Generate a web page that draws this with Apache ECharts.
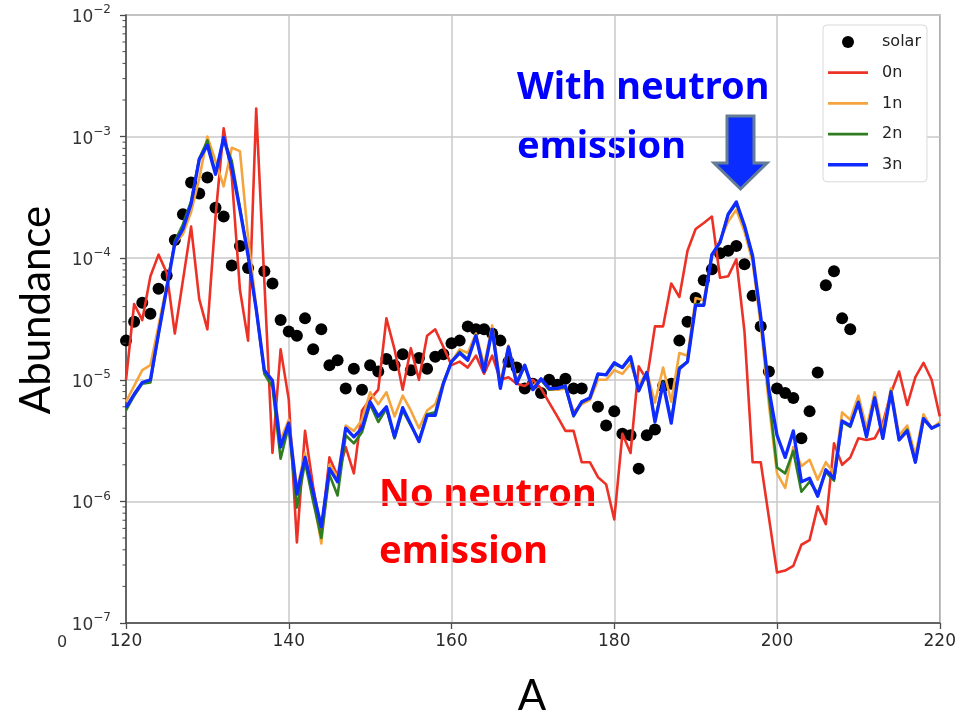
<!DOCTYPE html>
<html>
<head>
<meta charset="utf-8">
<script src="https://cdn.jsdelivr.net/npm/echarts@6/dist/echarts.min.js"></script>
<style>
  html, body { margin: 0; padding: 0; background: #fff; }
  #chart { width: 959px; height: 710px; }
</style>
</head>
<body>
<div id="chart"></div>
<script>
// Mass numbers A = 120 ... 220
const massNumbers = Array.from({ length: 101 }, (_, i) => 120 + i);

// Solar r-process abundances (null where no value is plotted)
const solar = [
  2.1e-5, 3.0e-5, 4.3e-5, 3.5e-5, 5.6e-5, 7.2e-5, 1.41e-4, 2.3e-4, 4.2e-4, 3.4e-4,
  4.6e-4, 2.6e-4, 2.2e-4, 8.7e-5, 1.26e-4, 8.3e-5, null, 7.8e-5, 6.2e-5, 3.1e-5,
  2.5e-5, 2.3e-5, 3.2e-5, 1.78e-5, 2.6e-5, 1.32e-5, 1.45e-5, 8.5e-6, 1.23e-5, 8.3e-6,
  1.32e-5, 1.17e-5, 1.48e-5, 1.32e-5, 1.62e-5, 1.2e-5, 1.51e-5, 1.23e-5, 1.55e-5, 1.62e-5,
  2.0e-5, 2.1e-5, 2.75e-5, 2.6e-5, 2.6e-5, 2.4e-5, 2.1e-5, 1.41e-5, 1.26e-5, 8.5e-6,
  9.3e-6, 7.8e-6, 1.0e-5, 9.1e-6, 1.02e-5, 8.5e-6, 8.5e-6, null, 6.0e-6, 4.2e-6,
  5.5e-6, 3.6e-6, 3.5e-6, 1.86e-6, 3.5e-6, 3.9e-6, 8.9e-6, 9.3e-6, 2.1e-5, 3.0e-5,
  4.7e-5, 6.6e-5, 8.1e-5, 1.10e-4, 1.15e-4, 1.26e-4, 8.9e-5, 4.9e-5, 2.75e-5, 1.17e-5,
  8.5e-6, 7.8e-6, 7.1e-6, 3.3e-6, 5.5e-6, 1.15e-5, 6.0e-5, 7.8e-5, 3.2e-5, 2.6e-5,
  null, null, null, null, null, null, null, null, null, null, null
];

// Final abundances, no neutron emission
const n0 = [
  1.0e-5, 4.2e-5, 3.1e-5, 7.1e-5, 1.07e-4, 7.6e-5, 2.4e-5, 6.6e-5, 1.82e-4, 4.6e-5,
  2.6e-5, 2.2e-4, 1.17e-3, 4.7e-4, 5.5e-5, 2.1e-5, 1.7e-3, 6.5e-5, 2.5e-6, 1.78e-5,
  6.9e-6, 4.6e-7, 3.8e-6, 1.32e-6, 5.5e-7, 2.3e-6, 1.62e-6, 2.8e-6, 1.7e-6, 5.6e-6,
  6.9e-6, 8.3e-6, 3.2e-5, 1.78e-5, 8.3e-6, 1.82e-5, 1.0e-5, 2.3e-5, 2.6e-5, 1.86e-5,
  1.32e-5, 1.41e-5, 1.26e-5, 1.58e-5, 1.12e-5, 1.58e-5, 1.0e-5, 1.05e-5, 9.3e-6, 8.9e-6,
  1.0e-5, 8.5e-6, 6.5e-6, 5.0e-6, 3.8e-6, 3.8e-6, 2.1e-6, 2.1e-6, 1.58e-6, 1.38e-6,
  7.1e-7, 3.6e-6, 2.5e-6, 1.29e-5, 1.0e-5, 2.75e-5, 2.75e-5, 6.2e-5, 4.8e-5, 1.15e-4,
  1.74e-4, 1.95e-4, 2.2e-4, 6.9e-5, 7.1e-5, 9.8e-5, 2.5e-5, 2.1e-6, 2.1e-6, 7.4e-7,
  2.6e-7, 2.7e-7, 2.95e-7, 4.4e-7, 4.8e-7, 9.1e-7, 6.5e-7, 3.0e-6, 2.0e-6, 2.3e-6,
  3.3e-6, 3.2e-6, 3.3e-6, 4.4e-6, 7.8e-6, 1.17e-5, 6.2e-6, 1.05e-5, 1.38e-5, 1.0e-5,
  5.0e-6
];

// Up to one emitted neutron
const n1 = [
  6.6e-6, 8.9e-6, 1.2e-5, 1.32e-5, 2.8e-5, 6.0e-5, 1.32e-4, 1.58e-4, 2.4e-4, 4.5e-4,
  1.0e-3, 6.3e-4, 3.9e-4, 8.1e-4, 7.6e-4, 1.48e-4, 4.0e-5, 1.2e-5, 1.0e-5, 3.2e-6,
  4.7e-6, 1.26e-6, 2.5e-6, 1.12e-6, 4.5e-7, 2.0e-6, 1.58e-6, 4.2e-6, 3.8e-6, 4.7e-6,
  7.9e-6, 6.3e-6, 7.9e-6, 5.0e-6, 7.4e-6, 5.6e-6, 4.0e-6, 5.6e-6, 6.3e-6, 9.5e-6,
  1.41e-5, 1.78e-5, 1.66e-5, 2.4e-5, 1.32e-5, 2.8e-5, 9.5e-6, 1.91e-5, 1.0e-5, 1.26e-5,
  8.9e-6, 1.0e-5, 8.3e-6, 8.3e-6, 8.5e-6, 5.5e-6, 6.3e-6, 6.8e-6, 1.0e-5, 1.0e-5,
  1.2e-5, 1.12e-5, 1.35e-5, 8.9e-6, 1.17e-5, 6.5e-6, 1.26e-5, 6.6e-6, 1.66e-5, 1.58e-5,
  4.7e-5, 4.5e-5, 1.05e-4, 1.41e-4, 2.0e-4, 2.5e-4, 1.66e-4, 9.3e-5, 2.8e-5, 6.3e-6,
  1.7e-6, 1.29e-6, 2.8e-6, 1.95e-6, 2.2e-6, 1.51e-6, 2.1e-6, 1.7e-6, 5.4e-6, 4.7e-6,
  7.4e-6, 4.0e-6, 7.9e-6, 3.8e-6, 8.5e-6, 3.5e-6, 4.2e-6, 2.4e-6, 5.2e-6, 4.0e-6,
  4.5e-6
];

// Up to two emitted neutrons
const n2 = [
  5.6e-6, 7.4e-6, 9.3e-6, 9.5e-6, 2.4e-5, 5.8e-5, 1.38e-4, 1.9e-4, 2.95e-4, 6.6e-4,
  9.3e-4, 5.0e-4, 9.5e-4, 6.3e-4, 2.6e-4, 1.07e-4, 3.8e-5, 1.12e-5, 8.7e-6, 2.24e-6,
  4.2e-6, 8.9e-7, 2.1e-6, 1.0e-6, 5.0e-7, 1.66e-6, 1.12e-6, 3.5e-6, 3.0e-6, 3.7e-6,
  6.3e-6, 4.5e-6, 5.8e-6, 3.3e-6, 5.6e-6, 4.2e-6, 3.2e-6, 5.2e-6, 5.4e-6, 9.5e-6,
  1.41e-5, 1.7e-5, 1.48e-5, 2.3e-5, 1.2e-5, 2.6e-5, 8.7e-6, 1.86e-5, 9.3e-6, 1.32e-5,
  8.3e-6, 1.0e-5, 8.3e-6, 8.5e-6, 8.7e-6, 5.0e-6, 6.5e-6, 7.1e-6, 1.1e-5, 1.1e-5,
  1.35e-5, 1.26e-5, 1.51e-5, 8.1e-6, 1.15e-5, 4.6e-6, 9.5e-6, 4.6e-6, 1.26e-5, 1.41e-5,
  4.2e-5, 4.1e-5, 1.07e-4, 1.35e-4, 2.3e-4, 2.8e-4, 1.82e-4, 1.02e-4, 3.2e-5, 7.4e-6,
  1.9e-6, 1.7e-6, 2.6e-6, 1.2e-6, 1.45e-6, 1.17e-6, 1.74e-6, 1.48e-6, 4.5e-6, 4.1e-6,
  6.6e-6, 3.4e-6, 7.1e-6, 3.3e-6, 8.1e-6, 3.2e-6, 3.9e-6, 2.1e-6, 4.8e-6, 4.0e-6,
  4.3e-6
];

// Up to three emitted neutrons
const n3 = [
  5.9e-6, 7.6e-6, 9.5e-6, 1.0e-5, 2.4e-5, 5.6e-5, 1.32e-4, 1.74e-4, 2.8e-4, 6.5e-4,
  8.5e-4, 4.9e-4, 9.8e-4, 5.6e-4, 2.5e-4, 1.05e-4, 3.8e-5, 1.2e-5, 9.8e-6, 2.8e-6,
  4.4e-6, 1.15e-6, 2.3e-6, 1.2e-6, 6.2e-7, 1.86e-6, 1.45e-6, 4.0e-6, 3.4e-6, 4.0e-6,
  6.6e-6, 5.0e-6, 6.0e-6, 3.4e-6, 5.9e-6, 4.3e-6, 3.1e-6, 5.1e-6, 5.1e-6, 9.3e-6,
  1.41e-5, 1.66e-5, 1.45e-5, 2.3e-5, 1.17e-5, 2.6e-5, 8.5e-6, 1.86e-5, 9.3e-6, 1.32e-5,
  8.3e-6, 1.02e-5, 8.5e-6, 8.5e-6, 8.9e-6, 5.1e-6, 6.6e-6, 7.1e-6, 1.12e-5, 1.1e-5,
  1.38e-5, 1.26e-5, 1.55e-5, 8.1e-6, 1.15e-5, 4.5e-6, 9.3e-6, 4.4e-6, 1.23e-5, 1.41e-5,
  4.1e-5, 4.1e-5, 1.07e-4, 1.35e-4, 2.3e-4, 2.9e-4, 1.86e-4, 1.05e-4, 3.3e-5, 8.3e-6,
  3.5e-6, 2.3e-6, 3.8e-6, 1.45e-6, 1.55e-6, 1.1e-6, 1.82e-6, 1.55e-6, 4.6e-6, 4.2e-6,
  6.5e-6, 3.4e-6, 7.1e-6, 3.3e-6, 7.9e-6, 3.2e-6, 3.8e-6, 2.1e-6, 4.8e-6, 4.0e-6,
  4.3e-6
];

// Axis ticks
const xTicks = [120, 140, 160, 180, 200, 220];
const yDecades = [-7, -6, -5, -4, -3, -2];

const pairs = arr => massNumbers.map((a, i) => [a, arr[i]]).filter(p => p[1] != null);

// Log minor tick positions (2..9 x 10^k)
const minorTickValues = [];
for (let e = -7; e < -2; e++) {
  for (let m = 2; m <= 9; m++) minorTickValues.push([120, m * Math.pow(10, e)]);
}

const chart = echarts.init(document.getElementById('chart'), null, { renderer: 'canvas' });

const lineSeries = (name, data, color, width) => ({
  name, type: 'line', data: pairs(data), symbol: 'none', showSymbol: false,
  lineStyle: { color, width, join: 'round' }, itemStyle: { color },
  clip: true, z: 3
});

// flat bar icon for the line entries of the legend
const barIcon = h => 'path://M0,0L40,0L40,' + h + 'L0,' + h + 'Z';

const option = {
  animation: false,
  backgroundColor: '#ffffff',
  grid: {
    left: 126, right: 17, top: 15, bottom: 87,
    show: true, borderColor: '#4a4a4a', borderWidth: 1.3, backgroundColor: 'transparent'
  },
  xAxis: {
    type: 'value', min: 120, max: 220, interval: 20,
    axisLine: { show: true, lineStyle: { color: '#4a4a4a', width: 1.5 } },
    axisTick: { show: true, length: 6, lineStyle: { color: '#4a4a4a', width: 1.3 } },
    axisLabel: {
      margin: 10, color: '#2a2a2a', fontSize: 17, fontFamily: 'DejaVu Sans',
      formatter: v => xTicks.includes(v) ? String(v) : ''
    },
    splitLine: { show: true, lineStyle: { color: '#c9c9c9', width: 1.5 } }
  },
  yAxis: {
    type: 'log', logBase: 10, min: 1e-7, max: 1e-2,
    axisLine: { show: true, lineStyle: { color: '#4a4a4a', width: 1.5 } },
    axisTick: { show: true, length: 6, lineStyle: { color: '#4a4a4a', width: 1.3 } },
    axisLabel: {
      margin: 15, color: '#333',
      formatter: v => {
        const e = Math.round(Math.log10(v));
        return yDecades.includes(e) ? '{b|10}{s|\u2212' + (-e) + '}' : '';
      },
      rich: {
        b: { fontSize: 17, fontFamily: 'DejaVu Sans', color: '#333', lineHeight: 22, verticalAlign: 'bottom' },
        s: { fontSize: 12, fontFamily: 'DejaVu Sans', color: '#333', lineHeight: 12, verticalAlign: 'top' }
      }
    },
    splitLine: { show: true, lineStyle: { color: '#c9c9c9', width: 1.5 } }
  },
  legend: {
    orient: 'vertical', left: 823, top: 25,
    padding: [9, 6, 9, 5], itemWidth: 40, itemHeight: 12, itemGap: 14.7,
    symbolKeepAspect: true,
    backgroundColor: '#ffffff', borderColor: '#d9d9d9', borderWidth: 1, borderRadius: 4,
    textStyle: { fontSize: 16, color: '#222', fontFamily: 'DejaVu Sans', padding: [0, 0, 0, 9] },
    data: [
      { name: 'solar', icon: 'circle' },
      { name: '0n', icon: barIcon(2.8) },
      { name: '1n', icon: barIcon(2.8) },
      { name: '2n', icon: barIcon(2.8) },
      { name: '3n', icon: barIcon(3.4) }
    ]
  },
  series: [
    {
      name: 'solar', type: 'scatter', data: pairs(solar),
      symbol: 'circle', symbolSize: 12, itemStyle: { color: '#000000', opacity: 1 }, z: 2
    },
    lineSeries('0n', n0, '#ec3226', 2.6),
    lineSeries('1n', n1, '#f5a53e', 2.6),
    lineSeries('2n', n2, '#2f7d20', 2.6),
    lineSeries('3n', n3, '#0f2bff', 3.3),
    {
      name: 'minorTicks', type: 'custom', data: minorTickValues, clip: false, silent: true, z: 4,
      renderItem: (params, api) => {
        const p = api.coord([api.value(0), api.value(1)]);
        return {
          type: 'line',
          shape: { x1: p[0] - 3.5, y1: p[1], x2: p[0], y2: p[1] },
          style: { stroke: '#4a4a4a', lineWidth: 1 }
        };
      }
    }
  ],
  graphic: [
    { type: 'text', x: 36, y: 310, rotation: Math.PI / 2,
      style: { text: 'Abundance', font: '42px Lato', fill: '#000', align: 'center', verticalAlign: 'middle' } },
    { type: 'text', x: 532, y: 696,
      style: { text: 'A', font: '42px Lato', fill: '#000', align: 'center', verticalAlign: 'middle' } },
    { type: 'text', x: 62, y: 643,
      style: { text: '0', font: '16px DejaVu Sans', fill: '#333', align: 'center', verticalAlign: 'middle' } },
    { type: 'text', x: 517, y: 88,
      style: { text: 'With neutron', font: 'bold 38px "Noto Sans"', fill: '#0000ff', align: 'left', verticalAlign: 'middle' } },
    { type: 'text', x: 517, y: 147,
      style: { text: 'emission', font: 'bold 38px "Noto Sans"', fill: '#0000ff', align: 'left', verticalAlign: 'middle' } },
    { type: 'text', x: 379, y: 495,
      style: { text: 'No neutron', font: 'bold 38px "Noto Sans"', fill: '#ff0000', align: 'left', verticalAlign: 'middle' } },
    { type: 'text', x: 379, y: 552,
      style: { text: 'emission', font: 'bold 38px "Noto Sans"', fill: '#ff0000', align: 'left', verticalAlign: 'middle' } },
    { type: 'polygon', z: 100,
      shape: { points: [[727, 116], [754, 116], [754, 163], [767, 163], [740.5, 189], [714, 163], [727, 163]] },
      style: { fill: '#0a2cff', stroke: '#647c94', lineWidth: 3, lineJoin: 'miter' } }
  ]
};

chart.setOption(option);
</script>
</body>
</html>
